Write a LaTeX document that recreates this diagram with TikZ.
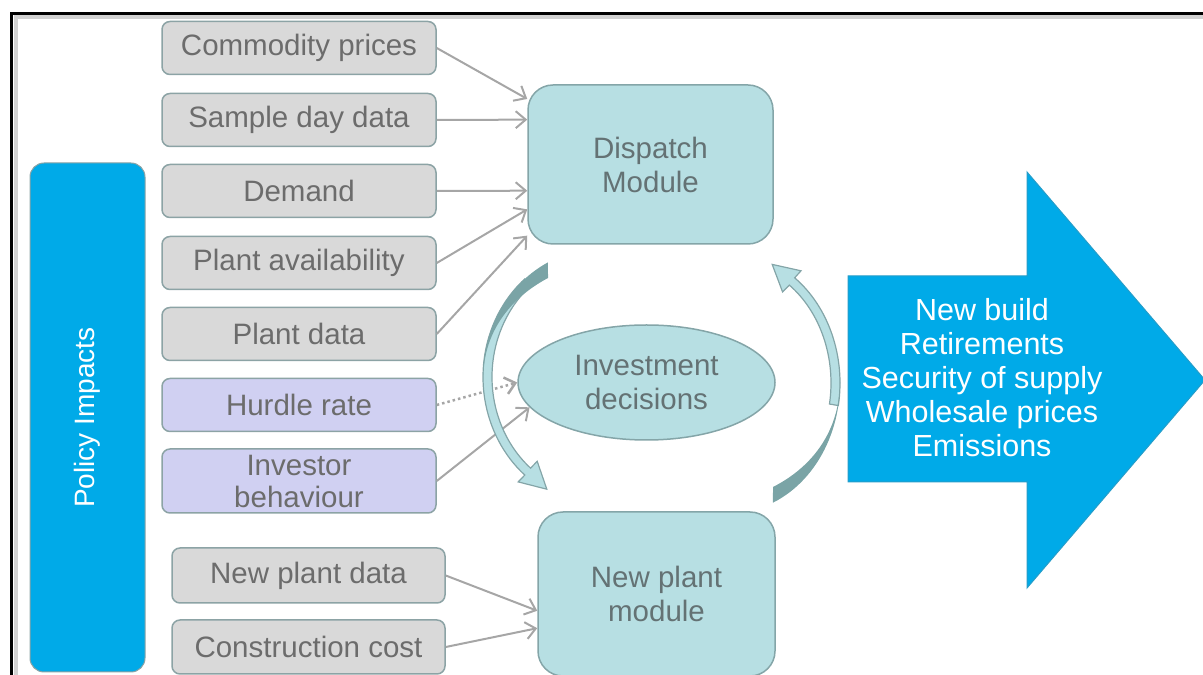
\documentclass[tikz,border=0pt]{standalone}
\usepackage{fontspec}
\setmainfont{Liberation Sans}
\usepackage{tikz}
\usetikzlibrary{calc}
\usetikzlibrary{arrows.meta,shapes.geometric}

\definecolor{policyblue}{RGB}{0,170,232}
\definecolor{boxgray}{RGB}{217,217,217}
\definecolor{boxline}{RGB}{140,163,165}
\definecolor{boxpurple}{RGB}{208,208,242}
\definecolor{modfill}{RGB}{183,223,227}
\definecolor{modline}{RGB}{132,165,168}
\definecolor{arcdark}{RGB}{122,164,166}
\definecolor{linkgray}{RGB}{166,166,166}
\definecolor{textgray}{RGB}{108,108,108}
\definecolor{modtext}{RGB}{100,114,116}

\newcommand{\boxfont}{\fontsize{29.5}{34}\selectfont}

\begin{document}
\begin{tikzpicture}[x=1pt,y=1pt,
	inbox/.style={draw=boxline, line width=1.5pt, fill=boxgray, rounded corners=8pt,
		minimum width=274pt, minimum height=53pt, inner sep=0pt, text=textgray,
		font=\boxfont, align=center},
	purplebox/.style={inbox, fill=boxpurple},
	modbox/.style={draw=modline, line width=1.5pt, fill=modfill, rounded corners=25pt,
		inner sep=0pt, text=modtext, font=\boxfont, align=center},
	feed/.style={draw=linkgray, line width=2pt, -{Straight Barb[length=10pt,width=17pt]}},
	arcband/.style={fill=modfill, draw=modline, line width=1.2pt}]
			\useasboundingbox (0,0) rectangle (1203,675);
			\clip (0,0) rectangle (1203,675);

			% frame
			\draw[black!18, line width=4pt] (15.5,0) -- (15.5,657.5) -- (1203,657.5);
			\draw[line width=3pt] (11.5,0) -- (11.5,661.5) -- (1203,661.5);

			\node[draw=boxline, line width=1pt, fill=policyblue, rounded corners=14pt, rotate=90,
				minimum width=509pt, minimum height=115pt, inner sep=0pt, text=white,
				font=\fontsize{28}{32}\selectfont]
				(policy) at (87.5,257.5) {Policy Impacts};

			% inputs
			\node[inbox] (comm) at (299,627) {Commodity prices};
			\node[inbox] (sample) at ($(comm)+(0,-72)$) {Sample day data};
			\node[inbox] (demand) at ($(sample)+(0,-71)$) {Demand};
			\node[inbox] (avail) at ($(demand)+(0,-72)$) {Plant availability};
			\node[inbox] (pdata) at ($(avail)+(0,-71)$) {Plant data};
			\node[purplebox] (hurdle) at ($(pdata)+(0,-71)$) {Hurdle rate};
			\node[purplebox, minimum height=64pt, font=\fontsize{29.5}{32}\selectfont] (investor) at ($(hurdle)+(0,-76)$) {Investor\\behaviour};
			\node[inbox, minimum width=273pt, minimum height=55pt] (newdata) at ($(investor)+(9.5,-94.5)$) {New plant data};
			\node[inbox, minimum width=273pt, minimum height=54pt] (cost) at ($(newdata)+(0,-71.5)$) {Construction cost};

			% modules
			\node[modbox, minimum width=245pt, minimum height=159pt] (disp) at (650.5,510.5) {Dispatch\\Module};
			\node[ellipse, draw=modline, line width=1.5pt, fill=modfill, minimum width=257pt, minimum height=115pt,
				inner sep=0pt, text=modtext, font=\boxfont, align=center] (invest) at (646.5,292.5) {Investment\\decisions};
			\node[modbox, minimum width=237pt, minimum height=164pt] (newplant) at (656.5,81) {New plant\\module};

			\draw[feed] (comm.east) -- (disp.152);
			\draw[feed] (sample.east) -- (disp.160);
			\draw[feed] (demand.east) -- (disp.192);
			\draw[feed] (avail.east) -- (disp.200);
			\draw[feed] (pdata.east) -- (disp.210);
			\draw[feed, line width=2.5pt, dash pattern=on 2.5pt off 3pt] (hurdle.east) -- (invest.west);
			\draw[feed] (investor.east) -- (invest.192);
			\draw[feed] (newdata.east) -- (newplant.188);
			\draw[feed] (cost.east) -- (newplant.196);

			% curved arrows
			\coordinate (cl) at (600,298);
			\coordinate (cr) at (730,292);
			\filldraw[arcband] ($(cl)+(130:117 and 128)$) arc[start angle=130, end angle=230, x radius=117, y radius=128]
				-- (518.2,193.1) -- (546.8,185.8) -- (537.2,213.7)
				-- ($(cl)+(230:108 and 119)$) arc[start angle=230, end angle=130, x radius=108, y radius=119] -- cycle;
			\fill[arcdark] (548,397) to[out=208,in=99] ($(cl)+(190:117 and 128)$)
				arc[start angle=190, end angle=116.4, x radius=117, y radius=128] -- cycle;

			\filldraw[arcband] ($(cr)+(-10:110 and 130)$) arc[start angle=-10, end angle=54, x radius=110, y radius=130]
				-- (801,404.2) -- (772.2,410.6) -- (782.6,383)
				-- ($(cr)+(54:101 and 121)$) arc[start angle=54, end angle=-10, x radius=101, y radius=121] -- cycle;
			\fill[arcdark] (773,188) to[out=27,in=278.5] ($(cr)+(10:110 and 130)$)
				arc[start angle=10, end angle=-67, x radius=110, y radius=130] -- cycle;

			% outputs
			\filldraw[fill=policyblue, draw=policyblue!70!gray, line width=1pt]
				(848,399) -- (1027,399) -- (1027,503) -- (1205,295) -- (1027,87) -- (1027,193) -- (848,193) -- cycle;
			\node[text=white, align=center, font=\fontsize{30.5}{34}\selectfont] (outcomes) at (982,297)
				{New build\\Retirements\\Security of supply\\Wholesale prices\\Emissions};

		\end{tikzpicture}
\end{document}
